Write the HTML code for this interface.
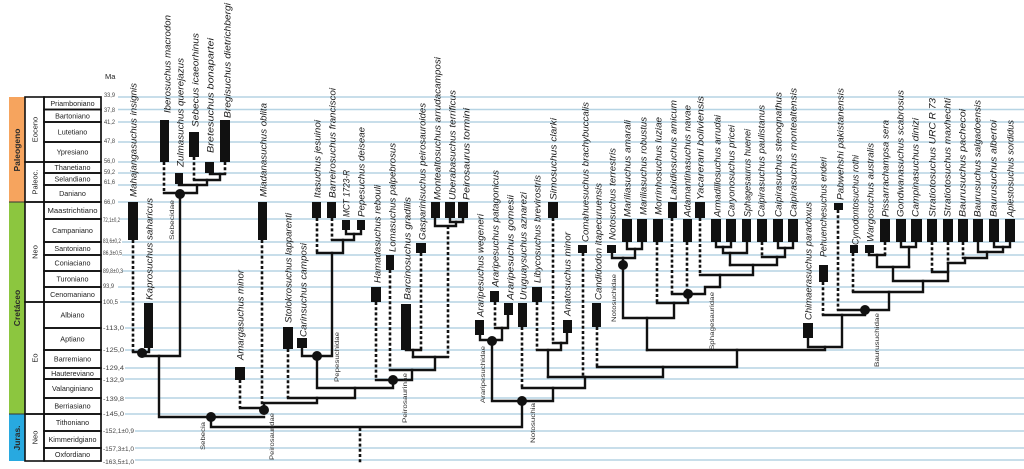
<!DOCTYPE html>
<html><head><meta charset="utf-8"><style>
html,body{margin:0;padding:0;background:#fff;}
svg{display:block;}
.t{font-family:"Liberation Sans",sans-serif;font-style:italic;font-size:9px;fill:#1a1a1a;}
.c{font-family:"Liberation Sans",sans-serif;font-size:6px;fill:#333;}
.tk{font-family:"Liberation Sans",sans-serif;font-size:6px;fill:#444;}
.st{font-family:"Liberation Sans",sans-serif;font-size:7.2px;fill:#222;}
.ep{font-family:"Liberation Sans",sans-serif;font-size:7.5px;fill:#222;}
.pe{font-family:"Liberation Sans",sans-serif;font-size:8.5px;font-weight:bold;fill:#2a2a2a;}
.s{fill:none;stroke:#111;stroke-width:2.4;stroke-linejoin:miter;stroke-linecap:square;}
.d{fill:none;stroke:#111;stroke-width:2.6;stroke-dasharray:3 2.2;}
.g{stroke:#b6d4e4;stroke-width:1.5;}
</style></head><body>
<svg width="1024" height="469" viewBox="0 0 1024 469" xmlns="http://www.w3.org/2000/svg">
<rect width="1024" height="469" fill="#fff"/>
<!-- grid lines -->
<g class="g">
<line x1="118" x2="1024" y1="97" y2="97"/><line x1="118" x2="1024" y1="109.5" y2="109.5"/>
<line x1="118" x2="1024" y1="122" y2="122"/><line x1="118" x2="1024" y1="142" y2="142"/>
<line x1="118" x2="1024" y1="162" y2="162"/><line x1="118" x2="1024" y1="173" y2="173"/>
<line x1="118" x2="1024" y1="185" y2="185"/><line x1="118" x2="1024" y1="202" y2="202"/>
<line x1="120" x2="1024" y1="219" y2="219"/><line x1="122" x2="1024" y1="242" y2="242"/>
<line x1="122" x2="1024" y1="255" y2="255"/><line x1="122" x2="1024" y1="271" y2="271"/>
<line x1="118" x2="1024" y1="287" y2="287"/><line x1="120" x2="1024" y1="302" y2="302"/>
<line x1="125" x2="1024" y1="328" y2="328"/><line x1="125" x2="1024" y1="350" y2="350"/>
<line x1="125" x2="1024" y1="368" y2="368"/><line x1="125" x2="1024" y1="379" y2="379"/>
<line x1="125" x2="1024" y1="398" y2="398"/><line x1="125" x2="1024" y1="414" y2="414"/>
<line x1="135" x2="1024" y1="431" y2="431"/><line x1="135" x2="1024" y1="448" y2="448"/>
<line x1="135" x2="1024" y1="460" y2="460"/>
</g>
<!-- periods -->
<rect x="9" y="97" width="16" height="105" fill="#f6a45e"/>
<rect x="9" y="202" width="16" height="212" fill="#8cc63f"/>
<rect x="9" y="414" width="16" height="47" fill="#28a9e0"/>
<line x1="9" x2="25" y1="202" y2="202" stroke="#333" stroke-width="1"/>
<line x1="9" x2="25" y1="414" y2="414" stroke="#333" stroke-width="1"/>
<text class="pe" transform="translate(20 150) rotate(-90)" text-anchor="middle">Paleogeno</text>
<text class="pe" transform="translate(20 308) rotate(-90)" text-anchor="middle">Cretáceo</text>
<text class="pe" transform="translate(20 438) rotate(-90)" text-anchor="middle">Juras.</text>
<!-- epochs -->
<g fill="none" stroke="#111" stroke-width="1.6">
<rect x="25" y="97" width="19" height="65"/>
<rect x="25" y="162" width="19" height="40"/>
<rect x="25" y="202" width="19" height="100"/>
<rect x="25" y="302" width="19" height="112"/>
<rect x="25" y="414" width="19" height="47"/>
</g>
<text class="ep" transform="translate(37.5 129.5) rotate(-90)" text-anchor="middle">Eoceno</text>
<text class="ep" transform="translate(37.5 182) rotate(-90)" text-anchor="middle">Paleoc.</text>
<text class="ep" transform="translate(37.5 252) rotate(-90)" text-anchor="middle">Neo</text>
<text class="ep" transform="translate(37.5 358) rotate(-90)" text-anchor="middle">Eo</text>
<text class="ep" transform="translate(37.5 437.5) rotate(-90)" text-anchor="middle">Neo</text>
<!-- stages -->
<g fill="none" stroke="#111" stroke-width="1.7">
<rect x="44" y="97" width="57" height="12.5"/><rect x="44" y="109.5" width="57" height="12.5"/>
<rect x="44" y="122" width="57" height="20"/><rect x="44" y="142" width="57" height="20"/>
<rect x="44" y="162" width="57" height="11"/><rect x="44" y="173" width="57" height="12"/>
<rect x="44" y="185" width="57" height="17"/><rect x="44" y="202" width="57" height="17"/>
<rect x="44" y="219" width="57" height="23"/><rect x="44" y="242" width="57" height="13"/>
<rect x="44" y="255" width="57" height="16"/><rect x="44" y="271" width="57" height="16"/>
<rect x="44" y="287" width="57" height="15"/><rect x="44" y="302" width="57" height="26"/>
<rect x="44" y="328" width="57" height="22"/><rect x="44" y="350" width="57" height="18"/>
<rect x="44" y="368" width="57" height="11"/><rect x="44" y="379" width="57" height="19"/>
<rect x="44" y="398" width="57" height="16"/><rect x="44" y="414" width="57" height="17"/>
<rect x="44" y="431" width="57" height="17"/><rect x="44" y="448" width="57" height="13"/>
</g>
<g class="st" text-anchor="middle">
<text x="72.5" y="106">Priamboniano</text>
<text x="72.5" y="118.3">Bartoniano</text>
<text x="72.5" y="134.5">Lutetiano</text>
<text x="72.5" y="154.5">Ypresiano</text>
<text x="72.5" y="170">Thanetiano</text>
<text x="72.5" y="181.5">Selandiano</text>
<text x="72.5" y="196">Daniano</text>
<text x="72.5" y="213" textLength="50" lengthAdjust="spacingAndGlyphs">Maastrichtiano</text>
<text x="72.5" y="233">Campaniano</text>
<text x="72.5" y="251">Santoniano</text>
<text x="72.5" y="265.5">Coniaciano</text>
<text x="72.5" y="281.5">Turoniano</text>
<text x="72.5" y="297">Cenomaniano</text>
<text x="72.5" y="317.5">Albiano</text>
<text x="72.5" y="341.5">Aptiano</text>
<text x="72.5" y="361.5">Barremiano</text>
<text x="72.5" y="376">Hautereviano</text>
<text x="72.5" y="391">Valanginiano</text>
<text x="72.5" y="408.5">Berriasiano</text>
<text x="72.5" y="425">Tithoniano</text>
<text x="72.5" y="442" textLength="48" lengthAdjust="spacingAndGlyphs">Kimmeridgiano</text>
<text x="72.5" y="457">Oxfordiano</text>
</g>
<text class="ep" x="105" y="79">Ma</text>
<!-- ticks -->
<g class="tk">
<text x="104" y="97" textLength="11" lengthAdjust="spacingAndGlyphs">33,9</text>
<text x="104" y="112" textLength="11" lengthAdjust="spacingAndGlyphs">37,8</text>
<text x="104" y="124" textLength="11" lengthAdjust="spacingAndGlyphs">41,2</text>
<text x="104" y="143" textLength="11" lengthAdjust="spacingAndGlyphs">47,8</text>
<text x="104" y="163" textLength="11" lengthAdjust="spacingAndGlyphs">56,0</text>
<text x="104" y="174" textLength="11" lengthAdjust="spacingAndGlyphs">59,2</text>
<text x="104" y="184" textLength="11" lengthAdjust="spacingAndGlyphs">61,6</text>
<text x="104" y="204" textLength="11" lengthAdjust="spacingAndGlyphs">66,0</text>
<text x="103" y="222" textLength="17" lengthAdjust="spacingAndGlyphs">72,1±0,2</text>
<text x="103" y="243" textLength="18" lengthAdjust="spacingAndGlyphs">83,6±0,2</text>
<text x="103" y="255" textLength="19" lengthAdjust="spacingAndGlyphs">86,3±0,5</text>
<text x="103" y="273" textLength="20" lengthAdjust="spacingAndGlyphs">89,8±0,3</text>
<text x="103" y="288" textLength="11" lengthAdjust="spacingAndGlyphs">93,9</text>
<text x="103" y="304" textLength="15" lengthAdjust="spacingAndGlyphs">100,5</text>
<text x="103" y="330" textLength="21" lengthAdjust="spacingAndGlyphs">-113,0</text>
<text x="103" y="352" textLength="21" lengthAdjust="spacingAndGlyphs">-125,0</text>
<text x="103" y="370" textLength="21" lengthAdjust="spacingAndGlyphs">-129,4</text>
<text x="103" y="382" textLength="21" lengthAdjust="spacingAndGlyphs">-132,9</text>
<text x="103" y="401" textLength="21" lengthAdjust="spacingAndGlyphs">-139,8</text>
<text x="103" y="416" textLength="21" lengthAdjust="spacingAndGlyphs">-145,0</text>
<text x="103" y="433" textLength="31" lengthAdjust="spacingAndGlyphs">-152,1±0,9</text>
<text x="103" y="451" textLength="31" lengthAdjust="spacingAndGlyphs">-157,3±1,0</text>
<text x="103" y="464" textLength="31" lengthAdjust="spacingAndGlyphs">-163,5±1,0</text>
</g>
<!-- dashed lines -->
<g class="d">
<line x1="133" y1="240" x2="133" y2="352"/>
<line x1="164" y1="162" x2="164" y2="193"/>
<line x1="194" y1="157" x2="194" y2="180"/>
<line x1="225" y1="162" x2="225" y2="174"/>
<line x1="262" y1="240" x2="262" y2="409"/>
<line x1="240" y1="380" x2="240" y2="408"/>
<line x1="288" y1="349" x2="288" y2="398"/>
<line x1="317" y1="218" x2="317" y2="253"/>
<line x1="332" y1="218" x2="332" y2="240"/>
<line x1="376" y1="302" x2="376" y2="380"/>
<line x1="390" y1="270" x2="390" y2="370"/>
<line x1="421" y1="253" x2="421" y2="350"/>
<line x1="448" y1="226" x2="448" y2="357"/>
<line x1="360" y1="428" x2="360" y2="464"/>
<line x1="495" y1="302" x2="495" y2="328"/>
<line x1="522" y1="327" x2="522" y2="388"/>
<line x1="537" y1="302" x2="537" y2="350"/>
<line x1="553" y1="218" x2="553" y2="343"/>
<line x1="583" y1="253" x2="583" y2="377"/>
<line x1="597" y1="327" x2="597" y2="367"/>
<line x1="657" y1="242" x2="657" y2="303"/>
<line x1="672" y1="218" x2="672" y2="294"/>
<line x1="687" y1="242" x2="687" y2="292"/>
<line x1="700" y1="218" x2="700" y2="275"/>
<line x1="762" y1="242" x2="762" y2="257"/>
<line x1="823" y1="282" x2="823" y2="315"/>
<line x1="838" y1="210" x2="838" y2="310"/>
<line x1="853" y1="253" x2="853" y2="292"/>
<line x1="885" y1="242" x2="885" y2="255"/>
<line x1="932" y1="242" x2="932" y2="272"/>
<line x1="948" y1="242" x2="948" y2="263"/>
<line x1="963" y1="242" x2="963" y2="258"/>
</g>
<!-- solid lines -->
<g class="s">
<path d="M133 352 H149 V348"/>
<path d="M142 353 V356 H180 V194"/>
<path d="M159 356 V417 H264"/>
<path d="M211 417 V427 H522 V401"/>
<path d="M164 193 H197 V185"/>
<path d="M179 184 V185 H207 V180"/>
<path d="M194 180 H220 V174"/>
<path d="M210 173 V174 H225"/>
<path d="M240 408 H264"/>
<path d="M264 410 V403 H317 V398"/>
<path d="M288 398 H355 V388"/>
<path d="M317 356 V388 H393 V380"/>
<path d="M302 348 V356 H332 V253"/>
<path d="M317 253 H343 V240"/>
<path d="M332 240 H354 V234"/>
<path d="M346 230 V234 H361 V230"/>
<path d="M376 380 H412 V370"/>
<path d="M390 370 H435 V357"/>
<path d="M413 357 H448"/>
<path d="M413 357 V350"/>
<path d="M406 350 H421"/>
<path d="M435 218 V226 H456 V222"/>
<path d="M450 218 V222 H463 V218"/>
<path d="M480 335 V340 H502 V328"/>
<path d="M495 328 H508 V315"/>
<path d="M492 341 V401 H553 V388"/>
<path d="M522 388 H585 V377"/>
<path d="M548 377 H663 V367"/>
<path d="M597 367 H737 V350"/>
<path d="M647 350 H825 V347"/>
<path d="M537 350 H561 V343"/>
<path d="M553 343 H567 V333"/>
<path d="M548 350 V377"/>
<path d="M612 253 V258 H635 V249"/>
<path d="M627 242 V249 H642 V242"/>
<path d="M623 258 V318 H674 V303"/>
<path d="M647 318 V350"/>
<path d="M657 303 H688 V294"/>
<path d="M672 294 H705 V287 H720 V275"/>
<path d="M700 275 H753 V265"/>
<path d="M730 265 H777 V257"/>
<path d="M716 242 V247 H731 V242"/>
<path d="M723 247 V253 H747 V242"/>
<path d="M730 253 V265"/>
<path d="M778 242 V248 H793 V242"/>
<path d="M785 248 V257 H762"/>
<path d="M808 338 V347 H842 V315"/>
<path d="M823 315 H865 V310"/>
<path d="M838 310 H889 V292"/>
<path d="M853 292 H923 V281"/>
<path d="M869 253 V255 H885"/>
<path d="M877 255 V267 H909"/>
<path d="M901 242 V247 H916 V242"/>
<path d="M909 247 V267"/>
<path d="M893 267 V281 H948 V263"/>
<path d="M932 272 H948"/>
<path d="M948 263 H965 V258"/>
<path d="M963 258 H987 V252"/>
<path d="M978 242 V252 H1003 V247"/>
<path d="M994 242 V247 H1010 V242"/>
</g>
<!-- nodes -->
<g fill="#111">
<circle cx="142" cy="353" r="5"/><circle cx="180" cy="194" r="5"/>
<circle cx="211" cy="417" r="5"/><circle cx="264" cy="410" r="5"/>
<circle cx="317" cy="356" r="5"/><circle cx="393" cy="380" r="5"/>
<circle cx="492" cy="341" r="5"/><circle cx="522" cy="401" r="5"/>
<circle cx="623" cy="265" r="5"/><circle cx="688" cy="294" r="5"/>
<circle cx="865" cy="310" r="5"/>
</g>
<!-- bars -->
<g fill="#111">
<rect x="128" y="202" width="10" height="38"/>
<rect x="144" y="303" width="9" height="45"/>
<rect x="160" y="120" width="9" height="42"/>
<rect x="175" y="173" width="8" height="11"/>
<rect x="189" y="132" width="10" height="25"/>
<rect x="205" y="162" width="9" height="11"/>
<rect x="220" y="120" width="10" height="42"/>
<rect x="258" y="202" width="9" height="38"/>
<rect x="235" y="367" width="10" height="13"/>
<rect x="283" y="327" width="10" height="22"/>
<rect x="297" y="338" width="10" height="10"/>
<rect x="312" y="202" width="9" height="16"/>
<rect x="327" y="202" width="9" height="16"/>
<rect x="342" y="220" width="8" height="10"/>
<rect x="357" y="220" width="8" height="10"/>
<rect x="371" y="287" width="10" height="15"/>
<rect x="386" y="255" width="8" height="15"/>
<rect x="401" y="304" width="10" height="46"/>
<rect x="416" y="243" width="10" height="10"/>
<rect x="431" y="202" width="9" height="16"/>
<rect x="445" y="202" width="10" height="16"/>
<rect x="458" y="202" width="10" height="16"/>
<rect x="475" y="320" width="9" height="15"/>
<rect x="490" y="291" width="9" height="11"/>
<rect x="504" y="303" width="9" height="12"/>
<rect x="518" y="303" width="9" height="24"/>
<rect x="532" y="287" width="10" height="15"/>
<rect x="548" y="202" width="10" height="16"/>
<rect x="563" y="320" width="9" height="13"/>
<rect x="578" y="245" width="9" height="8"/>
<rect x="592" y="303" width="9" height="24"/>
<rect x="607" y="245" width="9" height="8"/>
<rect x="622" y="219" width="10" height="23"/>
<rect x="637" y="219" width="10" height="23"/>
<rect x="653" y="219" width="10" height="23"/>
<rect x="668" y="202" width="9" height="16"/>
<rect x="683" y="219" width="9" height="23"/>
<rect x="695" y="202" width="10" height="16"/>
<rect x="711" y="219" width="10" height="23"/>
<rect x="726" y="219" width="10" height="23"/>
<rect x="742" y="219" width="9" height="23"/>
<rect x="757" y="219" width="10" height="23"/>
<rect x="773" y="219" width="10" height="23"/>
<rect x="788" y="219" width="10" height="23"/>
<rect x="803" y="323" width="10" height="15"/>
<rect x="819" y="265" width="9" height="17"/>
<rect x="834" y="203" width="9" height="7"/>
<rect x="850" y="245" width="8" height="8"/>
<rect x="865" y="245" width="9" height="8"/>
<rect x="880" y="219" width="10" height="23"/>
<rect x="896" y="219" width="10" height="23"/>
<rect x="911" y="219" width="11" height="23"/>
<rect x="927" y="219" width="10" height="23"/>
<rect x="943" y="219" width="10" height="23"/>
<rect x="958" y="219" width="10" height="23"/>
<rect x="973" y="219" width="10" height="23"/>
<rect x="989" y="219" width="10" height="23"/>
<rect x="1005" y="219" width="10" height="23"/>
</g>
<!-- taxon labels -->
<g class="t">
<text transform="translate(136.3 197) rotate(-90)" textLength="114" lengthAdjust="spacingAndGlyphs">Mahajangasuchus insignis</text>
<text transform="translate(152.3 300) rotate(-90)" textLength="102" lengthAdjust="spacingAndGlyphs">Kaprosuchus saharicus</text>
<text transform="translate(170.3 113) rotate(-90)" textLength="98" lengthAdjust="spacingAndGlyphs">Iberosuchus macrodon</text>
<text transform="translate(183.3 167) rotate(-90)" textLength="109" lengthAdjust="spacingAndGlyphs">Zulmasuchus querejazus</text>
<text transform="translate(198.3 127) rotate(-90)" textLength="94" lengthAdjust="spacingAndGlyphs">Sebecus icaeorhinus</text>
<text transform="translate(213.3 153) rotate(-90)" textLength="115" lengthAdjust="spacingAndGlyphs">Bretesuchus bonapartei</text>
<text transform="translate(230.3 118) rotate(-90)" textLength="115" lengthAdjust="spacingAndGlyphs">Bregisuchus dietrichbergi</text>
<text transform="translate(266.3 197) rotate(-90)" textLength="94" lengthAdjust="spacingAndGlyphs">Miadanasuchus oblita</text>
<text transform="translate(243.3 360) rotate(-90)" textLength="90" lengthAdjust="spacingAndGlyphs">Amargasuchus minor</text>
<text transform="translate(291.3 323) rotate(-90)" textLength="110" lengthAdjust="spacingAndGlyphs">Stolokrosuchus lapparenti</text>
<text transform="translate(306.3 337) rotate(-90)" textLength="94" lengthAdjust="spacingAndGlyphs">Carinsuchus camposi</text>
<text transform="translate(320.3 198) rotate(-90)" textLength="78" lengthAdjust="spacingAndGlyphs">Itasuchus jesuinoi</text>
<text transform="translate(335.3 198) rotate(-90)" textLength="110" lengthAdjust="spacingAndGlyphs">Barreirosuchus franciscoi</text>
<text transform="translate(349.3 217) rotate(-90)" textLength="47" lengthAdjust="spacingAndGlyphs">MCT 1723-R</text>
<text transform="translate(364.3 217) rotate(-90)" textLength="90" lengthAdjust="spacingAndGlyphs">Pepesuchus deiseae</text>
<text transform="translate(380.3 283) rotate(-90)" textLength="98" lengthAdjust="spacingAndGlyphs">Hamadasuchus rebouli</text>
<text transform="translate(395.3 252) rotate(-90)" textLength="109" lengthAdjust="spacingAndGlyphs">Lomasuchus palpebrosus</text>
<text transform="translate(410.3 300) rotate(-90)" textLength="103" lengthAdjust="spacingAndGlyphs">Barcinosuchus gradilis</text>
<text transform="translate(425.3 240) rotate(-90)" textLength="137" lengthAdjust="spacingAndGlyphs">Gasparinisuchus peirosauroides</text>
<text transform="translate(440.3 200) rotate(-90)" textLength="143" lengthAdjust="spacingAndGlyphs">Montealtosuchus arrudacamposi</text>
<text transform="translate(455.3 200) rotate(-90)" textLength="110" lengthAdjust="spacingAndGlyphs">Uberabasuchus terrificus</text>
<text transform="translate(469.3 200) rotate(-90)" textLength="92" lengthAdjust="spacingAndGlyphs">Peirosaurus tormini</text>
<text transform="translate(483.3 317) rotate(-90)" textLength="103" lengthAdjust="spacingAndGlyphs">Araripesuchus wegeneri</text>
<text transform="translate(498.3 287) rotate(-90)" textLength="117" lengthAdjust="spacingAndGlyphs">Araripesuchus patagonicus</text>
<text transform="translate(513.3 300) rotate(-90)" textLength="105" lengthAdjust="spacingAndGlyphs">Araripesuchus gomesii</text>
<text transform="translate(526.3 300) rotate(-90)" textLength="108" lengthAdjust="spacingAndGlyphs">Uruguaysuchus aznarezi</text>
<text transform="translate(540.3 283) rotate(-90)" textLength="108" lengthAdjust="spacingAndGlyphs">Libycosuchus brevirostris</text>
<text transform="translate(556.3 200) rotate(-90)" textLength="82" lengthAdjust="spacingAndGlyphs">Simosuchus clarki</text>
<text transform="translate(570.3 316) rotate(-90)" textLength="84" lengthAdjust="spacingAndGlyphs">Anatosuchus minor</text>
<text transform="translate(588.3 242) rotate(-90)" textLength="140" lengthAdjust="spacingAndGlyphs">Comahuesuchus brachybuccalis</text>
<text transform="translate(601.3 300) rotate(-90)" textLength="117" lengthAdjust="spacingAndGlyphs">Candidodon itapecuruensis</text>
<text transform="translate(615.3 240) rotate(-90)" textLength="92" lengthAdjust="spacingAndGlyphs">Notosuchus terrestris</text>
<text transform="translate(630.3 217) rotate(-90)" textLength="97" lengthAdjust="spacingAndGlyphs">Mariliasuchus amarali</text>
<text transform="translate(646.3 215) rotate(-90)" textLength="98" lengthAdjust="spacingAndGlyphs">Mariliasuchus robustus</text>
<text transform="translate(661.3 215) rotate(-90)" textLength="98" lengthAdjust="spacingAndGlyphs">Morrinhosuchus luziae</text>
<text transform="translate(676.3 200) rotate(-90)" textLength="100" lengthAdjust="spacingAndGlyphs">Labidiosuchus amicum</text>
<text transform="translate(690.3 217) rotate(-90)" textLength="112" lengthAdjust="spacingAndGlyphs">Adamantinasuchus navae</text>
<text transform="translate(703.3 200) rotate(-90)" textLength="104" lengthAdjust="spacingAndGlyphs">Yacarerani boliviensis</text>
<text transform="translate(720.3 217) rotate(-90)" textLength="102" lengthAdjust="spacingAndGlyphs">Armadillosuchus arrudai</text>
<text transform="translate(734.3 217) rotate(-90)" textLength="92" lengthAdjust="spacingAndGlyphs">Caryonosuchus pricei</text>
<text transform="translate(750.3 217) rotate(-90)" textLength="88" lengthAdjust="spacingAndGlyphs">Sphagesaurus huenei</text>
<text transform="translate(764.3 217) rotate(-90)" textLength="112" lengthAdjust="spacingAndGlyphs">Caipirasuchus paulistanus</text>
<text transform="translate(781.3 217) rotate(-90)" textLength="125" lengthAdjust="spacingAndGlyphs">Caipirasuchus stenognathus</text>
<text transform="translate(796.3 217) rotate(-90)" textLength="129" lengthAdjust="spacingAndGlyphs">Caipirasuchus montealtensis</text>
<text transform="translate(811.3 320) rotate(-90)" textLength="118" lengthAdjust="spacingAndGlyphs">Chimaerasuchus paradoxus</text>
<text transform="translate(826.3 257) rotate(-90)" textLength="100" lengthAdjust="spacingAndGlyphs">Pehuenchesuchus enderi</text>
<text transform="translate(843.3 200) rotate(-90)" textLength="112" lengthAdjust="spacingAndGlyphs">Pabwehshi pakistanensis</text>
<text transform="translate(858.3 245) rotate(-90)" textLength="90" lengthAdjust="spacingAndGlyphs">Cynodontosuchus rothi</text>
<text transform="translate(873.3 242) rotate(-90)" textLength="99" lengthAdjust="spacingAndGlyphs">Wargosuchus australis</text>
<text transform="translate(888.3 217) rotate(-90)" textLength="97" lengthAdjust="spacingAndGlyphs">Pissarrachampsa sera</text>
<text transform="translate(903.3 217) rotate(-90)" textLength="127" lengthAdjust="spacingAndGlyphs">Gondwanasuchus scabrosus</text>
<text transform="translate(918.3 217) rotate(-90)" textLength="99" lengthAdjust="spacingAndGlyphs">Campinasuchus dinizi</text>
<text transform="translate(935.3 217) rotate(-90)" textLength="119" lengthAdjust="spacingAndGlyphs">Stratiotosuchus URC R 73</text>
<text transform="translate(950.3 217) rotate(-90)" textLength="119" lengthAdjust="spacingAndGlyphs">Stratiotosuchus maxhechti</text>
<text transform="translate(965.3 217) rotate(-90)" textLength="108" lengthAdjust="spacingAndGlyphs">Baurusuchus pachecoi</text>
<text transform="translate(980.3 217) rotate(-90)" textLength="117" lengthAdjust="spacingAndGlyphs">Baurusuchus salgadoensis</text>
<text transform="translate(996.3 217) rotate(-90)" textLength="97" lengthAdjust="spacingAndGlyphs">Baurusuchus albertoi</text>
<text transform="translate(1013.3 217) rotate(-90)" textLength="97" lengthAdjust="spacingAndGlyphs">Aplestosuchus sordidus</text>
</g>
<!-- clade labels -->
<g class="c">
<text transform="translate(174 240) rotate(-90)" textLength="40" lengthAdjust="spacingAndGlyphs">Sebecidae</text>
<text transform="translate(205 450) rotate(-90)" textLength="28" lengthAdjust="spacingAndGlyphs">Sebecia</text>
<text transform="translate(274 460) rotate(-90)" textLength="47" lengthAdjust="spacingAndGlyphs">Peirosauridae</text>
<text transform="translate(339 382) rotate(-90)" textLength="50" lengthAdjust="spacingAndGlyphs">Pepesuchidae</text>
<text transform="translate(407 423) rotate(-90)" textLength="50" lengthAdjust="spacingAndGlyphs">Peirosaurinae</text>
<text transform="translate(485 403) rotate(-90)" textLength="57" lengthAdjust="spacingAndGlyphs">Araripesuchidae</text>
<text transform="translate(535 443) rotate(-90)" textLength="40" lengthAdjust="spacingAndGlyphs">Notosuchia</text>
<text transform="translate(616 322) rotate(-90)" textLength="48" lengthAdjust="spacingAndGlyphs">Notosuchidae</text>
<text transform="translate(714 350) rotate(-90)" textLength="58" lengthAdjust="spacingAndGlyphs">Sphagesauridae</text>
<text transform="translate(879 367) rotate(-90)" textLength="54" lengthAdjust="spacingAndGlyphs">Baurusuchidae</text>
</g>
</svg>
</body></html>
